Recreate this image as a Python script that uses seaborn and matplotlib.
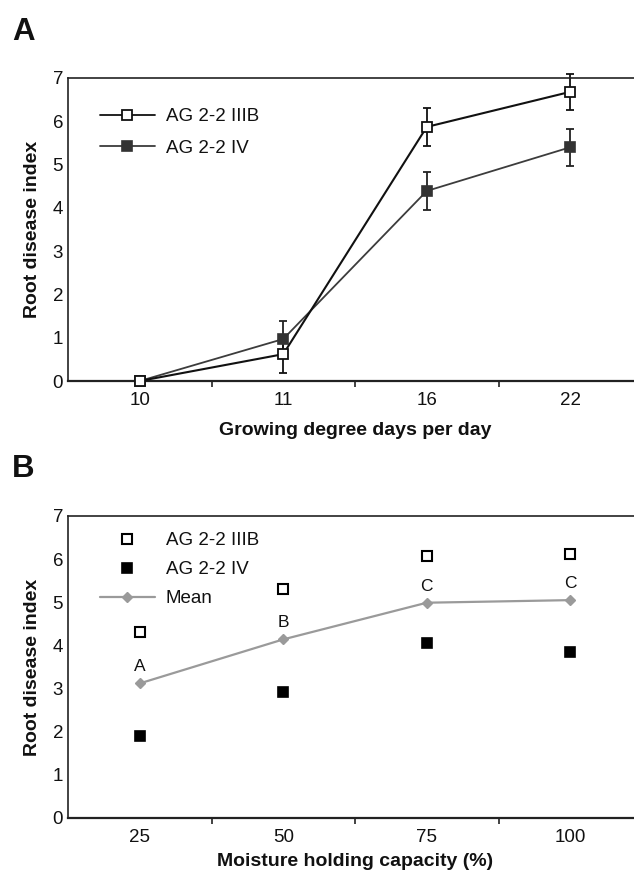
import matplotlib
matplotlib.use("Agg")
import matplotlib.pyplot as plt
from matplotlib.lines import Line2D
import seaborn as sns

# ---- data ----
gdd_labels = ["10", "11", "16", "22"]
iiib_a = [0.0, 0.62, 5.87, 6.68]
iiib_a_err = [0.0, 0.43, 0.43, 0.42]
iv_a = [0.0, 0.97, 4.39, 5.40]
iv_a_err = [0.0, 0.42, 0.44, 0.43]

mhc_labels = ["25", "50", "75", "100"]
iiib_b = [4.32, 5.31, 6.07, 6.11]
iv_b = [1.90, 2.93, 4.05, 3.84]
mean_b = [3.12, 4.14, 4.99, 5.05]
mean_letters = ["A", "B", "C", "C"]

series_names = ["AG 2-2 IIIB", "AG 2-2 IV", "Mean"]
y_ticks = [0, 1, 2, 3, 4, 5, 6, 7]

# ---- style ----
sns.set_theme(style="white")
plt.rcParams["font.family"] = ["Liberation Sans", "DejaVu Sans"]
plt.rcParams["text.color"] = "#111111"
plt.rcParams["axes.labelcolor"] = "#111111"
plt.rcParams["xtick.color"] = "#111111"
plt.rcParams["ytick.color"] = "#111111"

W, H = 634, 874
fig = plt.figure(figsize=(W / 100, H / 100), dpi=100)
fig.patch.set_facecolor("white")

axA = fig.add_axes([68 / W, 1 - 381 / H, 574 / W, 303 / H])
axB = fig.add_axes([68 / W, 1 - 818 / H, 574 / W, 302 / H])

c_iiib = "#111111"
c_iv_line = "#3c3c3c"
c_iv_mark = "#333333"
c_mean = "#9a9a9a"
ms = 6.8

# ---- Panel A ----
axA.errorbar(range(len(gdd_labels)), iv_a, yerr=iv_a_err, fmt="none",
             ecolor="#222222", elinewidth=1.3, capsize=3, capthick=1.3,
             clip_on=False, zorder=2)
axA.errorbar(range(len(gdd_labels)), iiib_a, yerr=iiib_a_err, fmt="none",
             ecolor="#111111", elinewidth=1.3, capsize=3, capthick=1.3,
             clip_on=False, zorder=2)
sns.pointplot(x=gdd_labels, y=iv_a, ax=axA, color=c_iv_line, marker="s",
              errorbar=None, linewidth=1.3, markersize=ms,
              markerfacecolor=c_iv_mark, markeredgecolor=c_iv_mark,
              markeredgewidth=1.2, clip_on=False, zorder=3)
sns.pointplot(x=gdd_labels, y=iiib_a, ax=axA, color=c_iiib, marker="s",
              errorbar=None, linewidth=1.5, markersize=ms,
              markerfacecolor="white", markeredgecolor=c_iiib,
              markeredgewidth=1.3, clip_on=False, zorder=4)

hA = [
    Line2D([], [], color=c_iiib, lw=1.3, marker="s", ms=ms,
           mfc="white", mec=c_iiib, mew=1.3),
    Line2D([], [], color=c_iv_line, lw=1.3, marker="s", ms=ms,
           mfc=c_iv_mark, mec=c_iv_mark, mew=1.2),
]
axA.legend(hA, series_names[:2], loc="upper left",
           bbox_to_anchor=(0.0557, 0.901), frameon=False, borderpad=0,
           borderaxespad=0, handlelength=2.93, handletextpad=0.59,
           labelspacing=0.78, fontsize=13.5)

axA.set_xlabel("Growing degree days per day", fontsize=14, fontweight="bold")

# ---- Panel B ----
sns.pointplot(x=mhc_labels, y=mean_b, ax=axB, color=c_mean, marker="D",
              errorbar=None, linewidth=1.6, markersize=5.5,
              markerfacecolor=c_mean, markeredgecolor=c_mean,
              markeredgewidth=1.0, zorder=3)
sns.pointplot(x=mhc_labels, y=iiib_b, ax=axB, color="black", marker="s",
              linestyle="none", errorbar=None, markersize=ms,
              markerfacecolor="white", markeredgecolor="black",
              markeredgewidth=1.5, zorder=4)
sns.pointplot(x=mhc_labels, y=iv_b, ax=axB, color="black", marker="s",
              linestyle="none", errorbar=None, markersize=ms,
              markerfacecolor="black", markeredgecolor="black",
              markeredgewidth=1.2, zorder=4)

for i, (v, lab) in enumerate(zip(mean_b, mean_letters)):
    axB.annotate(lab, (i, v), xytext=(0, 12), textcoords="offset points",
                 ha="center", va="center", fontsize=12.5)

hB = [
    Line2D([], [], linestyle="none", marker="s", ms=ms,
           mfc="white", mec="black", mew=1.5),
    Line2D([], [], linestyle="none", marker="s", ms=ms,
           mfc="black", mec="black", mew=1.2),
    Line2D([], [], color=c_mean, lw=1.6, marker="D", ms=5.5,
           mfc=c_mean, mec=c_mean),
]
axB.legend(hB, series_names, loc="upper left",
           bbox_to_anchor=(0.0557, 0.947), frameon=False, borderpad=0,
           borderaxespad=0, handlelength=2.93, handletextpad=0.59,
           labelspacing=0.64, fontsize=13.5)

axB.set_xlabel("Moisture holding capacity (%)", fontsize=14, fontweight="bold")

# ---- shared axis styling ----
for ax, lab_y in ((axA, -0.135), (axB, -0.117)):
    ax.set_xlim(-0.5, 3.5)
    ax.set_ylim(0, 7)
    ax.set_yticks(y_ticks)
    ax.set_xticks([0.5, 1.5, 2.5], minor=True)
    ax.tick_params(axis="y", length=0, pad=3.5, labelsize=13.5)
    ax.tick_params(axis="x", which="major", length=0, pad=8, labelsize=13.5)
    ax.tick_params(axis="x", which="minor", length=4, width=1.2,
                   direction="out", color="#222222", bottom=True)
    ax.set_ylabel("Root disease index", fontsize=14, fontweight="bold")
    ax.yaxis.set_label_coords(-0.047, 0.5)
    ax.xaxis.set_label_coords(0.5, lab_y)
    ax.grid(False)
    for side, sp in ax.spines.items():
        sp.set_visible(True)
        sp.set_color("#222222")
        sp.set_linewidth(1.6 if side == "bottom" else 1.2)

fig.text(12 / W, 1 - 40 / H, "A", fontsize=22.5, fontweight="bold", va="baseline")
fig.text(12 / W, 1 - 477 / H, "B", fontsize=22.5, fontweight="bold", va="baseline")

fig.savefig("out.png", dpi=100, facecolor="white")
